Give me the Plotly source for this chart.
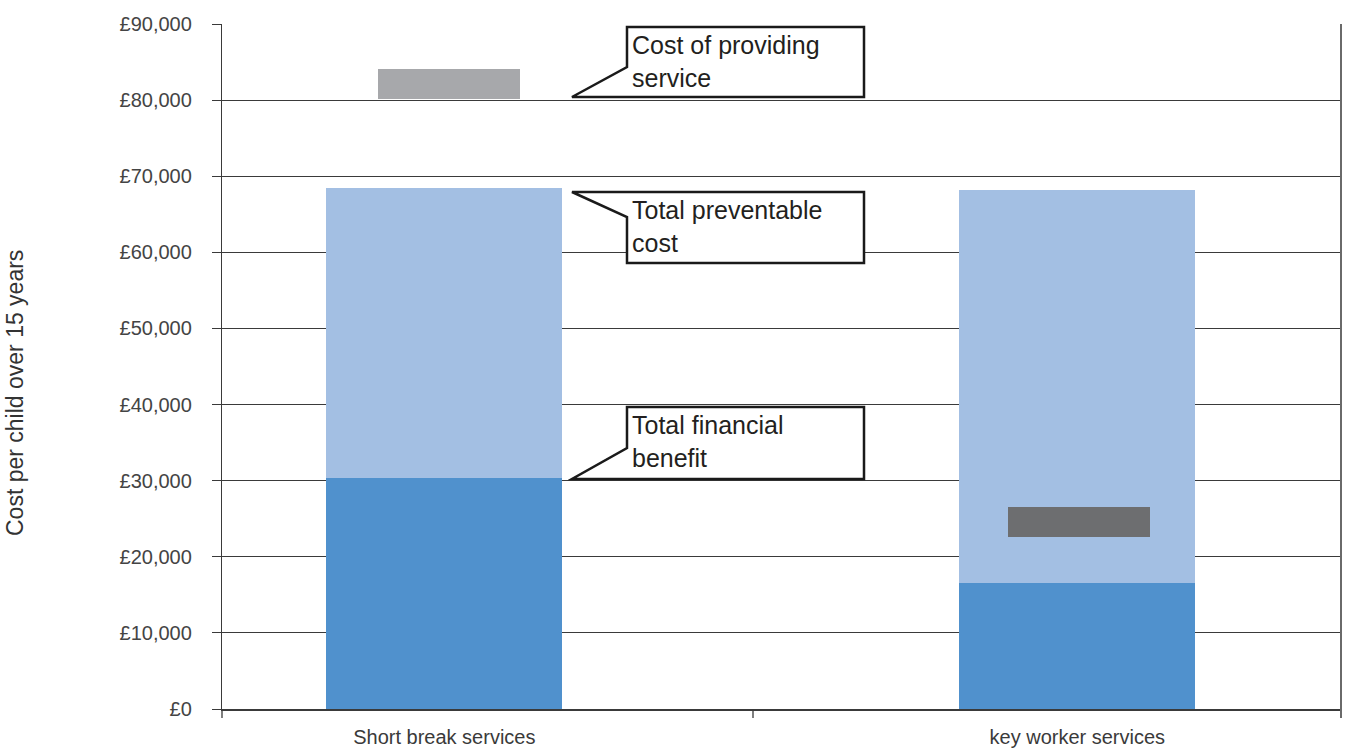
import plotly.graph_objects as go

# Data: cost per child over 15 years (GBP)
categories = ["Short break services", "key worker services"]
total_financial_benefit = [30300, 16600]
total_preventable_cost = [68500, 68200]
cost_of_providing = [82100, 24600]
y_tick_values = [0, 10000, 20000, 30000, 40000, 50000, 60000, 70000, 80000, 90000]
y_tick_labels = ["£0", "£10,000", "£20,000", "£30,000", "£40,000",
                 "£50,000", "£60,000", "£70,000", "£80,000", "£90,000"]

# Figure geometry (pixels)
W, H = 1347, 753
M_L, M_R, M_T, M_B = 222, 6, 24, 44
PW, PH = W - M_L - M_R, H - M_T - M_B

def px(x):
    return (x - M_L) / PW

def py(y):
    return (H - M_B - y) / PH

positions = list(range(len(categories)))
x_range = [-0.3512, 1.4166]

BLUE_DARK = "#5091cd"
BLUE_LIGHT = "#a3bfe3"
COST_COLOURS = ["#a7a8ab", "#6d6e70"]
LINE = "#3a3a3a"
COST_HALF_BAND = 2000
FONT = "Liberation Sans, Arial"

fig = go.Figure()
fig.add_trace(go.Bar(
    x=positions, y=total_preventable_cost, width=0.373,
    marker=dict(color=BLUE_LIGHT, line=dict(width=0)),
    name="Total preventable cost", hoverinfo="y",
))
fig.add_trace(go.Bar(
    x=positions, y=total_financial_benefit, width=0.373,
    marker=dict(color=BLUE_DARK, line=dict(width=0)),
    name="Total financial benefit", hoverinfo="y",
))
fig.add_trace(go.Bar(
    x=positions, y=[2 * COST_HALF_BAND] * len(cost_of_providing),
    base=[c - COST_HALF_BAND for c in cost_of_providing], width=0.224,
    offset=[-0.104, -0.109],
    marker=dict(color=COST_COLOURS, line=dict(width=0)),
    name="Cost of providing service",
    customdata=cost_of_providing, hovertemplate="%{customdata}<extra></extra>",
))

# Callout boxes with pointers
callouts = [
    ("Cost of providing<br>service", [(627, 27), (864, 27), (864, 97), (572, 97), (627, 67)]),
    ("Total preventable<br>cost", [(572, 192), (864, 192), (864, 263), (627, 263), (627, 217)]),
    ("Total financial<br>benefit", [(627, 407), (864, 407), (864, 479), (572, 479), (627, 448)]),
]
shapes = []
annotations = []
for text, pts in callouts:
    path = "M " + " L ".join(f"{px(a):.5f},{py(b):.5f}" for a, b in pts) + " Z"
    shapes.append(dict(type="path", xref="paper", yref="paper", path=path,
                       fillcolor="white", line=dict(color="#1a1a1a", width=2.5), layer="above"))
    top = min(b for _, b in pts)
    annotations.append(dict(xref="paper", yref="paper", x=px(630), y=py(top + 2),
                            xanchor="left", yanchor="top", align="left", showarrow=False,
                            text=text, font=dict(family=FONT, size=25, color="#231f20")))

# Category boundary ticks and right frame line
for xd in [0, (753 - M_L) / PW, 1]:
    shapes.append(dict(type="line", xref="x domain", yref="paper", x0=xd, x1=xd,
                       y0=0, y1=py(718), line=dict(color=LINE, width=1.3)))
shapes.append(dict(type="line", xref="paper", yref="paper", x0=1, x1=1, y0=py(718), y1=1,
                   line=dict(color="#6a6a6a", width=2)))

annotations.append(dict(xref="paper", yref="paper", x=px(15), y=py(393),
                        xanchor="center", yanchor="middle", textangle=-90,
                        showarrow=False, text="Cost per child over 15 years",
                        font=dict(family=FONT, size=23, color="#333333")))

fig.update_layout(
    width=W, height=H,
    margin=dict(l=M_L, r=M_R, t=M_T, b=M_B),
    paper_bgcolor="white", plot_bgcolor="white",
    barmode="overlay", bargap=0, showlegend=False,
    shapes=shapes, annotations=annotations,
    font=dict(family=FONT, color="#3a3a3a"),
)
fig.update_xaxes(
    range=x_range, tickvals=positions, ticktext=categories, ticks="",
    showline=True, linecolor=LINE, linewidth=1.5, showgrid=False, zeroline=False,
    tickfont=dict(size=20, color="#3a3a3a"), ticklabelstandoff=9,
)
fig.update_yaxes(
    range=[0, 90000], tickvals=y_tick_values, ticktext=y_tick_labels,
    showgrid=True, gridcolor=LINE, gridwidth=1.3, zeroline=False,
    showline=True, linecolor=LINE, linewidth=1.3,
    ticks="outside", ticklen=9, tickcolor=LINE, tickwidth=1.3,
    tickfont=dict(size=20, color="#444444"), ticklabelstandoff=16,
)

fig.write_html("out.html")
